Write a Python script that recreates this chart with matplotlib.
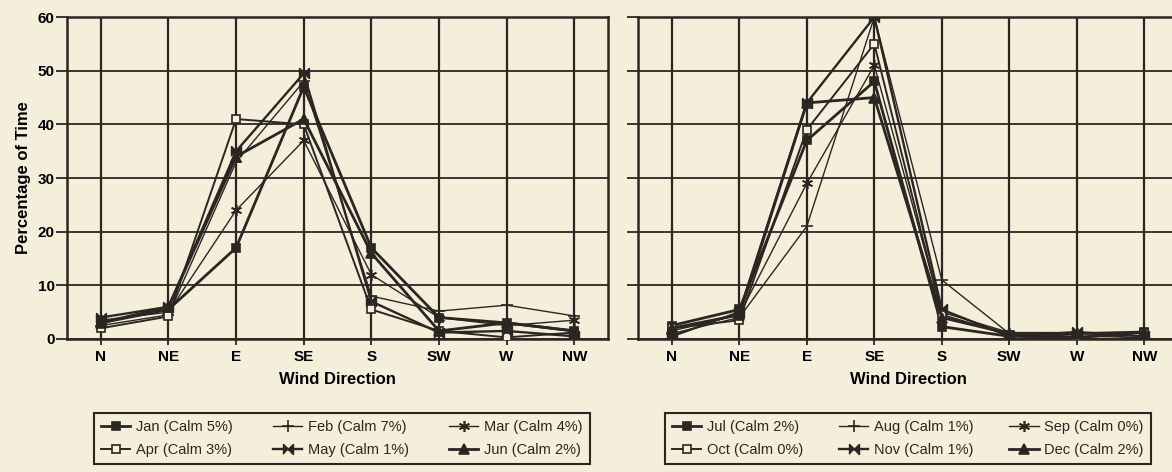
import matplotlib
matplotlib.use('Agg')
import matplotlib.pyplot as plt
import numpy as np

plt.rcParams['font.family'] = ['Liberation Sans', 'DejaVu Sans']

DIRECTIONS = ['N', 'NE', 'E', 'SE', 'S', 'SW', 'W', 'NW']

# percentage of time per wind direction, Jan-Jun
JAN = [3.0, 5.5, 17, 47, 17, 4.0, 3.0, 1.5]
FEB = [2.5, 4.5, 33, 48, 8, 5.2, 6.3, 4.3]
MAR = [3.5, 5.0, 24, 37, 12, 4.0, 2.5, 3.5]
APR = [2.0, 4.2, 41, 40, 5.5, 1.5, 0.3, 1.2]
MAY = [4.0, 6.0, 35, 49.5, 7, 1.2, 1.5, 0.5]
JUN = [3.0, 6.0, 34, 41, 16, 1.5, 3.0, 1.5]

# Jul-Dec
JUL = [2.5, 5.5, 37, 48, 2.3, 0.5, 0.3, 1.3]
AUG = [1.0, 4.0, 21, 60, 11, 1.0, 0.5, 0.3]
SEP = [1.5, 4.5, 29, 51, 5.0, 1.2, 1.2, 0.0]
OCT = [2.0, 3.5, 39, 55, 4.5, 0.8, 0.2, 1.2]
NOV = [0.5, 5.0, 44, 60, 5.5, 0.5, 1.3, 0.5]
DEC = [2.0, 4.5, 44, 45, 4.0, 1.0, 1.0, 1.3]

LABELS_1 = ['Jan (Calm 5%)', 'Feb (Calm 7%)', 'Mar (Calm 4%)',
            'Apr (Calm 3%)', 'May (Calm 1%)', 'Jun (Calm 2%)']
LABELS_2 = ['Jul (Calm 2%)', 'Aug (Calm 1%)', 'Sep (Calm 0%)',
            'Oct (Calm 0%)', 'Nov (Calm 1%)', 'Dec (Calm 2%)']

PAPER = '#f3efdb'
INK = '#2b2622'

BOWTIE = [(-1, -1), (-1, 1), (0, 0), (1, 1), (1, -1), (0, 0)]

# marker, filled, linewidth, markersize for each month slot
STYLES = [
    ('s', True, 2.0, 6),
    ('+', True, 1.0, 8),
    ((6, 2, 0), True, 1.0, 8),
    ('s', False, 1.4, 6),
    (BOWTIE, True, 1.7, 7),
    ('^', True, 2.0, 7),
]

# legend fills column by column; this puts months across the rows
ROW_ORDER = [0, 3, 1, 4, 2, 5]


def draw_panel(ax, series, labels, show_ylabels):
    x = np.arange(len(DIRECTIONS))
    handles = []
    for values, label, (mk, filled, lw, ms) in zip(series, labels, STYLES):
        h, = ax.plot(x, values, color=INK, linewidth=lw, marker=mk,
                     markersize=ms, markeredgewidth=1.2,
                     markerfacecolor=INK if filled else PAPER,
                     markeredgecolor=INK, label=label, zorder=3)
        handles.append(h)

    ax.set_facecolor(PAPER)
    ax.set_xlim(-0.5, 7.5)
    ax.set_ylim(0, 60)
    ax.set_xticks(x)
    ax.set_xticklabels(DIRECTIONS, fontsize=11, fontweight='bold')
    ax.set_yticks(np.arange(0, 61, 10))
    if show_ylabels:
        ax.set_yticklabels([str(v) for v in range(0, 61, 10)],
                           fontsize=11, fontweight='bold')
        ax.set_ylabel('Percentage of Time', fontsize=12, fontweight='bold',
                      labelpad=5)
    else:
        ax.set_yticklabels([])
    ax.set_xlabel('Wind Direction', fontsize=12, fontweight='bold',
                  labelpad=6)

    ax.grid(axis='x', color=INK, linewidth=1.6)
    ax.grid(axis='y', color=INK, linewidth=1.3)
    ax.set_axisbelow(True)
    ax.tick_params(axis='y', direction='out', length=8, width=1.3,
                   color=INK, pad=1)
    ax.tick_params(axis='x', direction='out', length=4, width=1.3,
                   color=INK, pad=4)
    for spine in ax.spines.values():
        spine.set_color(INK)
        spine.set_linewidth(1.8)
    return handles


def add_legend(fig, handles, x0, width):
    ordered = [handles[i] for i in ROW_ORDER]
    leg = fig.legend(handles=ordered, ncol=3, loc='upper left',
                     bbox_to_anchor=(x0, 0.125, width, 0),
                     bbox_transform=fig.transFigure, mode='expand',
                     borderaxespad=0, fontsize=10.5, handlelength=2.0,
                     handletextpad=0.4, columnspacing=0.6,
                     labelspacing=0.6, borderpad=0.5, fancybox=False,
                     facecolor=PAPER, edgecolor=INK, framealpha=1)
    leg.get_frame().set_linewidth(1.5)
    for txt in leg.get_texts():
        txt.set_color(INK)
    return leg


def main():
    fig = plt.figure(figsize=(11.72, 4.72), dpi=100, facecolor=PAPER)
    ax1 = fig.add_axes([0.0572, 0.2818, 0.4616, 0.682])
    ax2 = fig.add_axes([0.5444, 0.2818, 0.4608, 0.682])

    h1 = draw_panel(ax1, [JAN, FEB, MAR, APR, MAY, JUN], LABELS_1, True)
    h2 = draw_panel(ax2, [JUL, AUG, SEP, OCT, NOV, DEC], LABELS_2, False)

    add_legend(fig, h1, 0.0802, 0.423)
    add_legend(fig, h2, 0.5674, 0.4147)

    fig.savefig('out.png', dpi=100, facecolor=PAPER)
    plt.close(fig)


if __name__ == '__main__':
    main()
